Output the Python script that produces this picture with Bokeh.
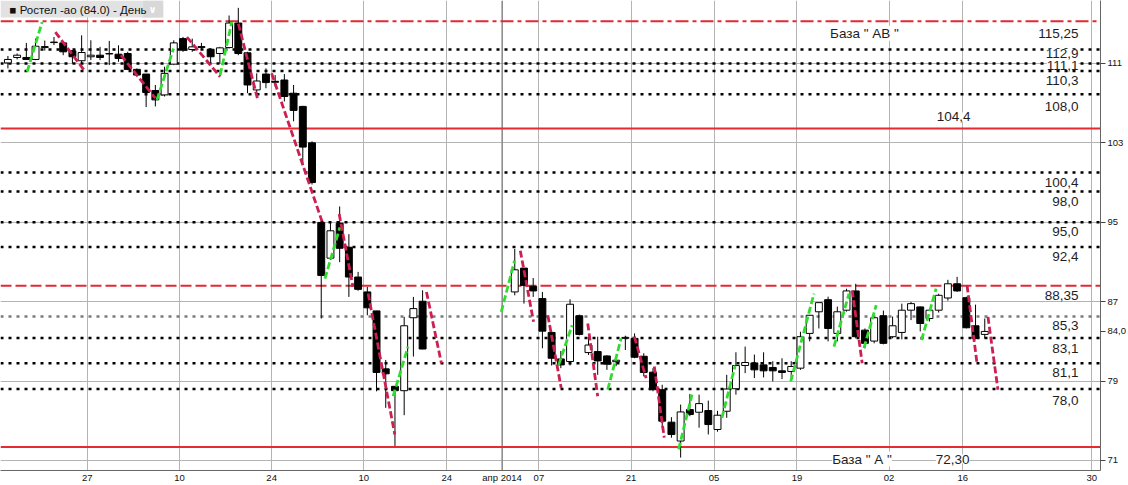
import numpy as np
import pandas as pd
from bokeh.plotting import figure
from bokeh.models import ColumnDataSource, FixedTicker, Span, Label, LabelSet, Range1d, BoxAnnotation
from bokeh.core.properties import value
from bokeh.embed import file_html
from bokeh.resources import INLINE

# ---------------- data ----------------
# bar index: trading day counted from 27 Jan (=0)
bar_index = [-9, -8, -7, -6, -5, -4, -3, -2, -1, 0, 1, 2, 3, 4, 5, 6, 7, 8, 9, 10,
             11, 12, 13, 14, 15, 16, 17, 18, 19, 20, 21, 22, 23, 24, 25, 26, 27, 28, 29, 30,
             31, 32, 33, 34, 35, 36,
             46, 47, 48, 49, 50, 51, 52, 53, 54, 55, 56, 57, 58, 59, 60, 61, 62, 63, 64, 65,
             66, 67, 68, 69, 70, 71, 72, 73, 74, 75, 76, 77, 78, 79, 80, 81, 82, 83, 84, 85,
             86, 87, 88, 89, 90, 91, 92, 93, 94, 95, 96, 97]
open_ = [111.05, 111.6, 111.6, 111.4, 112.6, 113.1, 113.07, 112.27, 111.27, 111.67, 111.83, 111.95, 111.93, 112.0, 110.4, 109.93, 108.27, 107.83, 110.93, 113.5,
         112.4, 112.6, 112.43, 112.0, 112.6, 115.07, 112.07, 108.33, 109.93, 109.2, 109.33, 108.0, 106.67, 103.0, 94.98, 91.38, 94.9, 92.48, 89.48, 87.98,
         86.07, 80.23, 78.47, 78.03, 85.38, 87.04,
         87.98, 90.38, 88.54, 87.31, 83.9, 81.23, 80.97, 85.58, 81.87, 81.97, 81.53, 80.95, 83.3, 83.3, 81.5, 79.9, 78.13, 74.86, 72.96, 76.13,
         75.86, 76.03, 74.12, 75.96, 78.23, 80.57, 80.83, 80.63, 80.37, 80.03, 79.97, 80.3, 83.8, 85.98, 87.2, 83.8, 86.14, 88.08, 84.13, 83.03,
         85.58, 83.47, 83.9, 86.14, 86.47, 85.3, 86.14, 87.37, 88.8, 87.4, 84.57, 83.7]
high = [111.75, 112.0, 113.07, 113.5, 113.3, 113.67, 113.17, 112.33, 113.83, 113.33, 112.67, 113.27, 112.83, 112.17, 110.5, 109.93, 108.83, 110.67, 113.33, 113.67,
        113.5, 113.07, 112.5, 112.67, 115.83, 116.6, 112.17, 110.0, 110.5, 109.83, 109.93, 108.83, 106.73, 103.15, 95.0, 95.0, 96.59, 93.8, 90.0, 88.48,
        86.07, 81.13, 78.5, 85.47, 87.48, 88.14,
        92.31, 90.4, 89.38, 87.98, 84.0, 82.03, 87.24, 85.7, 83.47, 83.47, 81.6, 81.5, 83.57, 83.8, 81.8, 80.3, 78.63, 75.36, 76.63, 77.7,
        77.63, 77.03, 76.0, 79.63, 81.9, 82.47, 81.67, 81.9, 81.0, 81.3, 81.0, 83.97, 85.63, 86.9, 87.5, 86.5, 88.3, 88.8, 84.3, 85.4,
        86.1, 85.5, 86.8, 86.97, 86.5, 86.3, 87.8, 89.2, 89.5, 87.5, 86.7, 85.3]
low = [110.5, 111.4, 111.35, 111.33, 112.3, 112.85, 111.83, 111.0, 110.67, 111.33, 111.33, 110.83, 111.17, 110.33, 109.8, 106.6, 106.67, 107.67, 110.83, 112.17,
       112.17, 112.33, 111.0, 111.0, 112.5, 111.83, 108.0, 107.67, 108.5, 108.67, 107.17, 105.17, 100.83, 98.8, 85.3, 91.2, 90.98, 87.48, 88.1, 85.63,
       77.97, 76.3, 72.46, 75.56, 81.47, 82.2,
       87.64, 86.8, 87.48, 82.3, 80.57, 80.3, 80.57, 83.6, 81.63, 79.63, 80.13, 80.5, 82.13, 81.3, 79.47, 77.97, 74.3, 73.29, 71.29, 75.46,
       74.3, 73.62, 73.9, 75.3, 77.63, 79.8, 79.3, 79.37, 78.97, 79.2, 79.0, 80.13, 83.0, 84.3, 83.0, 83.0, 86.0, 83.3, 82.3, 82.8,
       82.7, 83.3, 83.2, 85.14, 84.0, 85.0, 85.9, 87.1, 88.0, 84.3, 83.2, 83.3]
close = [111.4, 111.83, 111.4, 112.73, 112.7, 113.15, 112.17, 111.67, 112.1, 111.83, 111.6, 112.0, 111.5, 110.4, 109.83, 108.07, 107.33, 110.0, 113.07, 112.33,
         112.67, 112.7, 111.67, 112.57, 115.07, 112.0, 108.83, 109.23, 109.07, 109.1, 107.67, 106.27, 102.57, 99.0, 89.64, 94.14, 92.38, 89.48, 88.24, 86.38,
         79.87, 79.73, 78.03, 84.57, 86.3, 82.23,
         90.21, 88.64, 88.08, 84.03, 81.3, 80.63, 86.74, 83.7, 82.63, 81.03, 80.7, 81.1, 83.4, 81.4, 79.87, 78.13, 74.96, 73.62, 75.89, 75.63,
         76.73, 74.62, 75.56, 78.2, 80.57, 80.87, 80.13, 80.03, 80.03, 79.87, 80.47, 83.47, 85.63, 86.9, 84.3, 85.98, 88.08, 83.47, 82.8, 85.38,
         82.8, 84.57, 86.14, 86.8, 84.8, 86.14, 87.64, 88.8, 88.08, 84.37, 83.3, 84.0]

# swing segments (bar units / price)
swing_x0 = [-6.91, -3.85, 3.27, 7.17, 10.42, 14.03, 16.01, 19.62, 25.4, 26.95, 30.09, 32.8, 36.42,
            44.54, 46.6, 49.59, 50.77, 53.92, 56.09, 58.98, 61.14, 63.78, 68.48, 75.95, 80.64,
            82.62, 83.89, 90.14, 95.08, 97.35]
swing_y0 = [110.16, 114.16, 111.83, 107.33, 113.66, 109.83, 115.0, 110.0, 89.31, 95.82, 87.83, 77.47, 87.98,
            85.97, 92.14, 85.63, 80.63, 84.8, 78.13, 83.47, 80.47, 72.12, 75.3, 78.97, 82.47,
            88.14, 82.33, 83.13, 88.64, 85.47]
swing_x1 = [-5.29, -0.60, 6.99, 8.97, 14.03, 15.29, 18.07, 25.08, 27.02, 28.44, 32.98, 34.42, 38.04,
            45.98, 48.04, 51.04, 52.22, 55.0, 57.54, 60.25, 62.22, 65.23, 69.92, 78.47, 82.27,
            83.7, 85.22, 91.72, 96.16, 98.43]
swing_y1 = [115.16, 110.16, 107.5, 112.5, 109.66, 115.16, 107.5, 95.1, 94.48, 88.51, 73.62, 82.47, 80.8,
            91.14, 84.97, 78.3, 84.63, 77.47, 83.3, 79.3, 73.3, 77.63, 80.57, 87.81, 87.81,
            80.8, 86.64, 88.31, 80.8, 78.13]

# horizontal levels
level_values = [115.25, 112.4, 111.0, 110.25, 107.9, 104.45, 100.0, 98.1, 95.0, 92.5,
                88.6, 85.5, 83.35, 80.8, 78.2, 72.35]
level_kinds = ["dashdot", "dot", "dot", "dot", "dot", "solid", "dot", "dot", "dot", "dot",
               "dash", "graydot", "dot", "dot", "dot", "solid"]
level_labels = ["115,25", "112,9", "111,1", "110,3", "108,0", "104,4", "100,4", "98,0", "95,0", "92,4",
                "88,35", "85,3", "83,1", "81,1", "78,0", "72,30"]
base_labels = ["База \" АВ \"", "База \" А \""]
base_values = [115.25, 72.35]

# axes
tick_days = [0, 10, 20, 30, 39, 45, 49, 59, 68, 77, 87, 95, 109]
tick_labels = ["27", "10", "24", "10", "24", "апр 2014", "07", "21", "05", "19", "02", "16", "30"]
price_ticks = [71, 79, 87, 95, 103, 111]
last_price = 84.0
legend_text = "Ростел -ао (84.0) - День"

# ---------------- layout / style ----------------
BAR_OFFSET = 0.38
FONT = "Liberation Sans"
X0, X1 = -9.424, 109.94
Y0, Y1 = 69.99, 117.34
PX_X = 1102 / (X1 - X0)   # pixels per day
PX_Y = 473 / (Y1 - Y0)    # pixels per price unit

p = figure(width=1128, height=485, x_range=Range1d(X0, X1), y_range=Range1d(Y0, Y1),
           output_backend="svg", toolbar_location=None, y_axis_location="right",
           min_border_left=0, min_border_top=0, min_border_right=26, min_border_bottom=12)
p.outline_line_color = None
p.background_fill_color = "white"
p.border_fill_color = "white"

# grid
p.xgrid.ticker = FixedTicker(ticks=tick_days)
p.ygrid.ticker = FixedTicker(ticks=price_ticks)
for g in (p.xgrid, p.ygrid):
    g.grid_line_color = "#b4b4b4"
    g.grid_line_width = 1
    g.grid_line_alpha = 1.0
p.add_layout(Span(location=tick_days[tick_labels.index("апр 2014")], dimension="height",
                  line_color="#6e6e6e", line_width=1, level="underlay"))

# axes
p.xaxis.ticker = FixedTicker(ticks=tick_days)
p.xaxis.major_label_overrides = {d: lab for d, lab in zip(tick_days, tick_labels)}
p.xaxis.major_tick_out = 0
p.xaxis.major_tick_in = 0
p.xaxis.minor_tick_line_color = None
p.xaxis.major_label_standoff = 1
p.xaxis.major_label_text_font = FONT
p.xaxis.major_label_text_font_size = "9.5px"
p.xaxis.major_label_text_color = "#111111"
p.xaxis.axis_line_color = "#666666"

p.yaxis.ticker = FixedTicker(ticks=price_ticks + [last_price])
p.yaxis.major_label_overrides = {last_price: f"{last_price:.1f}".replace(".", ",")}
p.yaxis.major_tick_out = 5
p.yaxis.major_tick_in = 0
p.yaxis.minor_tick_line_color = None
p.yaxis.major_tick_line_color = "#444444"
p.yaxis.major_label_standoff = 2
p.yaxis.major_label_text_font = FONT
p.yaxis.major_label_text_font_size = "9.5px"
p.yaxis.major_label_text_color = "#111111"
p.yaxis.axis_line_color = "#666666"

# level lines
styles = {
    "dot": dict(line_color="black", line_width=2.5, line_dash="3 5"),
    "graydot": dict(line_color="#7a7a7a", line_width=2.5, line_dash="3 5"),
    "solid": dict(line_color="#e52a30", line_width=2),
    "dashdot": dict(line_color="#e02a35", line_width=2, line_dash="13 4 4 4"),
    "dash": dict(line_color="#e02a35", line_width=2, line_dash="11 4"),
}
for v, k in zip(level_values, level_kinds):
    p.add_layout(Span(location=v, dimension="width", level="underlay", **styles[k]))

# candles
df = pd.DataFrame(dict(i=bar_index, o=open_, h=high, l=low, c=close))
df["x"] = df["i"] + BAR_OFFSET
df["top"] = df[["o", "c"]].max(axis=1)
df["bottom"] = df[["o", "c"]].min(axis=1)
df["fill"] = np.where(df["c"] >= df["o"], "white", "black")
src = ColumnDataSource(df)
p.segment(x0="x", y0="h", x1="x", y1="l", source=src, line_color="black", line_width=1)
p.vbar(x="x", top="top", bottom="bottom", width=0.75, fill_color="fill",
       line_color="black", line_width=1, source=src)

# swing segments
sw = pd.DataFrame(dict(x0=swing_x0, y0=swing_y0, x1=swing_x1, y1=swing_y1))
sw["x0"] += BAR_OFFSET
sw["x1"] += BAR_OFFSET
sw["color"] = np.where(sw["y1"] > sw["y0"], "#30dc30", "#cc1f52")
p.segment(x0="x0", y0="y0", x1="x1", y1="y1", line_color="color", line_width=2.8,
          line_dash="7 3", source=ColumnDataSource(sw))

# level labels
right_idx = [j for j, t in enumerate(level_labels) if t not in ("104,4", "72,30")]
dy_map = {"115,25": -12, "112,9": -4, "111,1": -2, "110,3": -10, "108,0": -12, "100,4": -10,
          "98,0": -10, "95,0": -9, "92,4": -9, "88,35": -10, "85,3": -9, "83,1": -11,
          "81,1": -9, "78,0": -11}
rsrc = ColumnDataSource(dict(
    x=[107.56] * len(right_idx),
    y=[level_values[j] for j in right_idx],
    text=[level_labels[j] for j in right_idx],
    dy=[dy_map[level_labels[j]] for j in right_idx]))
p.add_layout(LabelSet(x="x", y="y", text="text", y_offset="dy", source=rsrc,
                      text_align="right", text_baseline="middle", text_font=value(FONT),
                      text_font_size="13.5px", text_color="#1e1e1e",
                      background_fill_color="white"))

csrc = ColumnDataSource(dict(
    x=[94.0, 93.9, 84.33, 84.06],
    y=[level_values[level_labels.index("104,4")], level_values[level_labels.index("72,30")],
       base_values[0], base_values[1]],
    text=["104,4", "72,30", base_labels[0], base_labels[1]],
    dy=[11.5, -12, -12, -12]))
p.add_layout(LabelSet(x="x", y="y", text="text", y_offset="dy", source=csrc,
                      text_align="center", text_baseline="middle", text_font=value(FONT),
                      text_font_size="13.5px", text_color="#1e1e1e",
                      background_fill_color="white"))

# legend box (top-left)
p.add_layout(BoxAnnotation(left=X0, right=X0 + 163 / PX_X, top=Y1, bottom=Y1 - 17 / PX_Y,
                           fill_color="#e2e2e2", fill_alpha=1.0, line_color=None))
p.add_layout(BoxAnnotation(left=X0 + 143 / PX_X, right=X0 + 163 / PX_X, top=Y1, bottom=Y1 - 17 / PX_Y,
                           fill_color="#d8d8d8", fill_alpha=1.0, line_color=None))
p.add_layout(Label(x=X0, y=Y1, text="\u25a0 " + legend_text,
                   text_align="left", text_baseline="middle", x_offset=9, y_offset=-9,
                   text_font=FONT, text_font_size="11.5px", text_color="#111111"))
p.add_layout(Label(x=X0, y=Y1, text="\u2228", x_offset=148, y_offset=-9,
                   text_align="left", text_baseline="middle", text_font="DejaVu Sans",
                   text_font_size="10px", text_font_style="bold", text_color="white"))

open("out.html", "w").write(file_html(p, INLINE))
